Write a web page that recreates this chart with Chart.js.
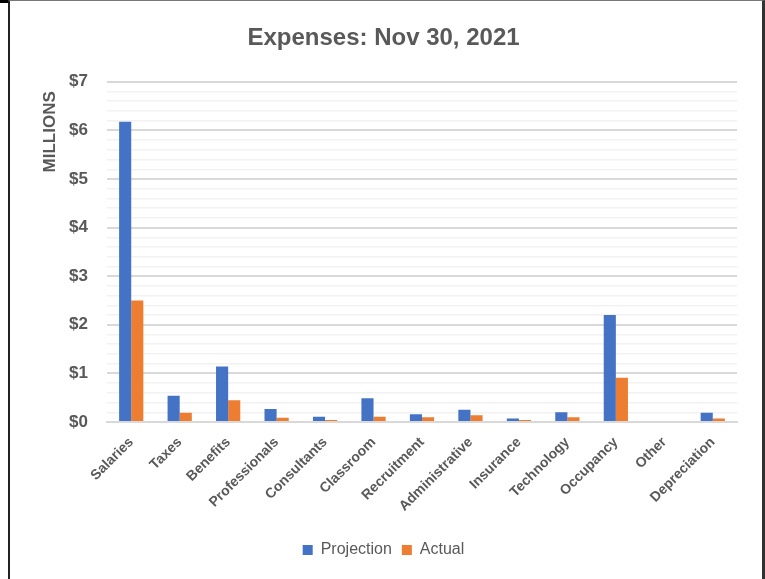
<!DOCTYPE html>
<html>
<head>
<meta charset="utf-8">
<script src="https://cdn.jsdelivr.net/npm/chart.js@4"></script>
<style>
    html, body { margin: 0; padding: 0; background: #fff; }
    #wrap { position: relative; width: 765px; height: 579px; }
    #frame {
        position: absolute; left: 8px; top: 0; width: 757px; height: 579px;
        border-left: 2px solid #222; border-right: 3px solid #333; border-top: 1px solid #777;
        box-sizing: border-box; pointer-events: none;
    }
    #corner { position: absolute; left: 0; top: 0; width: 8px; height: 3px; background: #000; }
</style>
</head>
<body>
<div id="wrap">
    <canvas id="chartExpenses" width="765" height="579"></canvas>
    <div id="frame"></div>
    <div id="corner"></div>
</div>
<script>
const ctx = document.getElementById('chartExpenses').getContext('2d');

const categorias = [
    'Salaries', 'Taxes', 'Benefits', 'Professionals', 'Consultants', 'Classroom', 'Recruitment',
    'Administrative', 'Insurance', 'Technology', 'Occupancy', 'Other', 'Depreciation'
];

// valores em milhões de dólares
const projecao = [6.18, 0.54, 1.14, 0.27, 0.11, 0.49, 0.16, 0.25, 0.07, 0.20, 2.20, 0, 0.19];
const real = [2.50, 0.19, 0.45, 0.09, 0.04, 0.11, 0.10, 0.14, 0.04, 0.10, 0.91, 0, 0.07];

const eixoMax = 7;
const eixoPasso = 0.2;

const fonte = "'Liberation Sans Narrow', 'Arial Narrow', 'Liberation Sans', sans-serif";
const cinza = '#595959';

const ehInteiro = v => Math.abs(v - Math.round(v)) < 1e-6;

const expensesChart = new Chart(ctx, {
    type: 'bar',
    data: {
        labels: categorias,
        datasets: [
            {
                label: 'Projection',
                data: projecao,
                backgroundColor: '#4472C4',
                categoryPercentage: 0.5,
                barPercentage: 1
            },
            {
                label: 'Actual',
                data: real,
                backgroundColor: '#ED7D31',
                categoryPercentage: 0.5,
                barPercentage: 1
            }
        ]
    },
    options: {
        responsive: false,
        animation: false,
        layout: {
            padding: { left: 30, right: 28, top: 0, bottom: 11 }
        },
        plugins: {
            title: {
                display: true,
                text: 'Expenses: Nov 30, 2021',
                color: cinza,
                font: { family: fonte, size: 24, weight: 'bold' },
                padding: { top: 24, bottom: 29 }
            },
            legend: {
                position: 'bottom',
                labels: {
                    color: cinza,
                    boxWidth: 10,
                    boxHeight: 10,
                    padding: 10,
                    font: { family: fonte, size: 16 }
                }
            },
            tooltip: { enabled: false }
        },
        scales: {
            x: {
                grid: { display: false },
                border: { color: '#d9d9d9', width: 2 },
                ticks: {
                    color: cinza,
                    maxRotation: 45,
                    minRotation: 45,
                    padding: 4,
                    font: { family: fonte, size: 14, weight: 'bold' }
                },
                afterFit: axis => { axis.height = 110; }
            },
            y: {
                min: 0,
                max: eixoMax,
                border: { display: false },
                grid: {
                    drawTicks: false,
                    color: c => ehInteiro(c.tick.value) ? '#d9d9d9' : '#f2f2f2',
                    lineWidth: c => ehInteiro(c.tick.value) ? 2 : 1.5
                },
                ticks: {
                    stepSize: eixoPasso,
                    autoSkip: false,
                    color: cinza,
                    padding: 19,
                    font: { family: fonte, size: 17, weight: 'bold' },
                    callback: v => ehInteiro(v) ? '$' + Math.round(v) : ''
                },
                title: {
                    display: true,
                    text: 'MILLIONS  ',
                    align: 'end',
                    color: cinza,
                    padding: 10,
                    font: { family: fonte, size: 17, weight: 'bold' }
                },
                afterFit: axis => { axis.width = 77; }
            }
        }
    }
});
</script>
</body>
</html>
